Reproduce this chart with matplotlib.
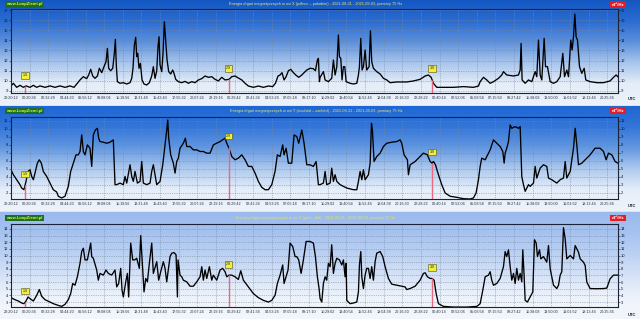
import numpy as np
import matplotlib
matplotlib.use("Agg")
import matplotlib.pyplot as plt
from matplotlib.colors import LinearSegmentedColormap

plt.rcParams['font.family'] = ['Liberation Sans', 'DejaVu Sans']

# ---- data (hours since 22:20:12, value in nT^2/Hz) ----
hours_x = [0.00, 0.28, 0.67, 1.06, 1.46, 1.77, 2.24, 2.64, 3.03, 3.42,
           4.01, 4.60, 5.19, 5.78, 6.37, 6.96, 7.43, 7.83, 8.14, 8.53,
           8.93, 9.16, 9.40, 9.64, 9.91, 10.19, 10.42, 10.70, 10.97, 11.21,
           11.37, 11.52, 11.76, 12.00, 12.19, 12.31, 12.43, 12.55, 12.86, 13.25,
           13.65, 14.04, 14.24, 14.39, 14.55, 14.71, 14.83, 14.95, 15.10, 15.26,
           15.46, 15.69, 16.01, 16.32, 16.60, 16.79, 16.99, 17.19, 17.34, 17.46,
           17.58, 17.78, 17.93, 18.09, 18.25, 18.41, 18.60, 18.84, 19.07, 19.23,
           19.43, 19.74, 20.14, 20.53, 20.92, 21.32, 21.71, 22.10, 22.50, 22.89,
           23.28, 23.68, 24.07, 24.46, 24.86, 25.25, 25.72, 26.04, 26.43, 26.82,
           27.22, 27.61, 28.00, 28.59, 29.18, 29.77, 30.36, 30.87, 31.19, 31.50,
           31.74, 31.97, 32.21, 32.45, 32.72, 33.00, 33.31, 33.63, 33.94, 34.26,
           34.57, 34.89, 35.28, 35.67, 35.91, 36.14, 36.26, 36.38, 36.46, 36.85,
           37.05, 37.44, 37.83, 38.03, 38.23, 38.43, 38.62, 38.74, 38.90, 39.05,
           39.21, 39.37, 39.53, 40.00, 40.39, 40.79, 40.98, 41.10, 41.26, 41.41,
           41.57, 41.77, 41.96, 42.24, 42.40, 42.55, 42.75, 43.14, 43.54, 43.93,
           44.32, 44.72, 45.50, 46.68, 47.47, 48.26, 48.85, 49.24, 49.56, 49.83,
           50.22, 51.01, 52.19, 53.37, 54.55, 55.14, 55.34, 55.73, 56.12, 56.52,
           56.91, 57.50, 57.89, 58.09, 58.48, 59.27, 59.86, 60.06, 60.17, 60.29,
           60.65, 61.04, 61.43, 61.83, 62.02, 62.22, 62.42, 62.61, 62.89, 63.05,
           63.28, 63.60, 63.99, 64.38, 64.78, 65.09, 65.29, 65.56, 65.76, 66.03,
           66.19, 66.35, 66.51, 66.66, 66.82, 67.06, 67.33, 67.61, 67.80, 68.31,
           69.10, 69.89, 70.67, 71.07, 71.38, 71.58]
energy_x = [9.49, 9.76, 9.36, 9.56, 9.36, 9.50, 9.36, 9.56, 9.36, 9.50,
            9.36, 9.50, 9.36, 9.50, 9.36, 9.50, 9.36, 9.76, 10.09, 10.41,
            10.22, 10.58, 11.14, 10.48, 10.25, 10.48, 11.24, 10.81, 11.40, 11.89,
            13.21, 11.24, 11.00, 11.24, 12.72, 14.10, 11.40, 9.92, 9.76, 9.82,
            9.69, 9.82, 10.25, 11.24, 13.54, 14.30, 12.39, 12.72, 11.24, 11.73,
            10.09, 9.69, 9.59, 9.82, 10.48, 11.40, 10.25, 11.00, 13.38, 14.36,
            11.57, 10.91, 12.72, 15.84, 13.87, 12.06, 10.91, 10.68, 11.07, 10.74,
            10.15, 9.92, 9.82, 9.95, 9.76, 9.92, 9.82, 10.09, 10.22, 10.48,
            10.35, 10.41, 10.15, 9.99, 10.35, 10.09, 10.15, 10.41, 10.48, 10.28,
            10.09, 9.76, 9.49, 9.36, 9.49, 9.36, 9.49, 9.43, 9.76, 10.48,
            10.58, 10.81, 10.09, 10.41, 11.00, 11.14, 10.81, 10.55, 10.35, 10.55,
            10.81, 11.07, 11.24, 11.20, 11.00, 12.06, 12.22, 9.92, 10.35, 10.91,
            10.09, 9.92, 10.25, 12.06, 10.58, 11.40, 14.53, 12.39, 12.22, 10.09,
            11.40, 11.40, 9.92, 9.76, 9.69, 9.76, 10.58, 11.40, 14.20, 11.07,
            11.40, 13.05, 11.07, 11.40, 14.95, 11.89, 11.24, 10.91, 10.68, 10.25,
            10.09, 9.82, 9.89, 9.89, 9.99, 10.15, 10.48, 10.58, 10.35, 9.76,
            9.36, 9.36, 9.36, 9.43, 9.36, 9.49, 9.92, 10.35, 10.09, 9.76,
            9.92, 10.25, 10.58, 10.91, 10.58, 10.48, 10.58, 11.07, 13.70, 10.09,
            9.76, 10.09, 9.92, 10.91, 10.41, 14.03, 10.58, 10.09, 14.20, 11.40,
            11.40, 9.92, 9.76, 9.92, 10.41, 12.72, 10.41, 11.07, 10.41, 14.03,
            13.05, 14.36, 16.60, 14.36, 14.03, 11.40, 10.74, 11.24, 10.09, 9.92,
            9.82, 9.82, 9.99, 10.35, 10.58, 10.41]

hours_y = [0.00, 0.28, 0.67, 1.06, 1.26, 1.53, 1.77, 2.01, 2.24, 2.44,
           2.64, 2.83, 3.11, 3.34, 3.58, 3.81, 4.21, 4.60, 4.99, 5.39,
           5.58, 5.98, 6.37, 6.76, 7.04, 7.35, 7.67, 7.94, 8.14, 8.34,
           8.53, 8.73, 9.01, 9.32, 9.52, 9.71, 9.95, 10.19, 10.34, 10.50,
           10.89, 11.29, 11.68, 12.07, 12.27, 12.47, 12.86, 13.25, 13.45, 13.65,
           14.04, 14.24, 14.43, 14.63, 14.91, 15.22, 15.42, 15.61, 16.01, 16.40,
           16.60, 16.79, 17.19, 17.58, 17.90, 18.17, 18.37, 18.49, 18.60, 18.84,
           19.15, 19.35, 19.55, 19.74, 19.94, 20.33, 20.57, 20.73, 21.12, 21.51,
           21.91, 22.30, 22.69, 23.09, 23.48, 23.87, 24.27, 24.66, 25.25, 25.45,
           25.72, 26.04, 26.43, 26.82, 27.22, 27.61, 28.00, 28.40, 28.79, 29.18,
           29.58, 29.97, 30.36, 30.76, 31.15, 31.42, 31.74, 32.05, 32.21, 32.45,
           32.72, 33.12, 33.39, 33.71, 33.94, 34.30, 34.57, 34.89, 35.28, 35.67,
           35.99, 36.26, 36.46, 36.85, 37.05, 37.24, 37.64, 37.83, 38.03, 38.23,
           38.43, 38.82, 39.61, 40.39, 40.79, 40.98, 41.18, 41.38, 41.57, 41.77,
           42.16, 42.36, 42.52, 42.63, 42.83, 43.14, 43.54, 43.93, 44.32, 44.91,
           45.50, 45.90, 46.09, 46.37, 46.76, 46.88, 47.08, 47.67, 48.26, 48.65,
           49.12, 49.44, 49.67, 49.83, 50.07, 50.42, 50.81, 51.21, 51.80, 52.58,
           53.37, 54.16, 54.55, 54.86, 55.14, 55.34, 55.53, 55.93, 56.32, 56.52,
           56.91, 57.30, 57.70, 58.01, 58.17, 58.29, 58.48, 58.68, 58.88, 59.07,
           59.47, 59.86, 60.06, 60.25, 60.45, 60.65, 61.04, 61.24, 61.63, 61.83,
           62.02, 62.42, 62.81, 63.20, 63.40, 63.79, 64.38, 64.78, 65.17, 65.37,
           65.56, 65.96, 66.35, 66.55, 66.74, 66.94, 67.33, 67.92, 68.31, 68.90,
           69.49, 69.89, 70.20, 70.48, 70.87, 71.26, 71.58]
energy_y = [4.90, 4.28, 3.66, 3.04, 2.62, 2.41, 3.45, 4.70, 4.90, 4.07,
            3.66, 4.49, 5.73, 6.15, 5.73, 4.70, 4.07, 3.24, 2.41, 2.12,
            1.59, 1.38, 1.59, 2.83, 4.70, 5.73, 6.77, 6.77, 7.19, 9.26,
            7.19, 6.77, 8.02, 7.60, 5.32, 9.26, 9.88, 10.09, 8.85, 8.43,
            8.35, 8.22, 8.35, 8.64, 3.04, 3.04, 3.24, 3.04, 4.07, 3.24,
            5.53, 4.07, 3.45, 4.70, 3.24, 3.45, 5.94, 3.24, 3.04, 3.24,
            4.70, 5.53, 3.04, 3.45, 5.53, 8.02, 9.88, 11.13, 8.85, 6.77,
            5.73, 4.49, 5.94, 6.36, 7.60, 8.22, 8.85, 7.81, 7.81, 7.39,
            7.39, 7.19, 7.19, 6.98, 6.98, 8.02, 8.22, 8.43, 8.85, 8.22,
            7.60, 6.56, 6.15, 6.36, 6.77, 6.15, 5.32, 5.32, 4.49, 3.45,
            2.71, 2.41, 2.41, 3.04, 4.70, 6.77, 6.56, 8.02, 6.77, 7.60,
            5.73, 5.73, 9.26, 9.05, 8.22, 9.88, 8.22, 5.53, 5.53, 5.32,
            5.94, 3.04, 3.04, 3.24, 4.70, 3.04, 3.24, 5.11, 3.45, 4.28,
            3.45, 3.04, 2.62, 2.41, 2.41, 3.45, 4.70, 3.66, 4.90, 3.66,
            4.28, 5.73, 10.71, 9.88, 5.94, 6.56, 6.98, 7.81, 8.22, 8.35,
            8.43, 8.64, 8.22, 6.77, 6.15, 4.28, 5.53, 5.94, 6.56, 6.98,
            6.77, 5.94, 5.73, 5.94, 5.53, 4.28, 3.04, 2.00, 1.59, 1.46,
            1.29, 1.25, 1.38, 2.00, 3.66, 5.32, 6.36, 6.15, 6.98, 7.39,
            8.64, 8.22, 7.81, 7.19, 5.73, 6.98, 7.60, 8.43, 10.51, 10.09,
            10.30, 10.09, 10.30, 4.07, 3.04, 2.21, 3.04, 2.83, 3.24, 5.32,
            3.87, 5.11, 5.53, 5.32, 3.87, 3.66, 3.24, 3.66, 3.87, 5.94,
            3.87, 4.70, 7.60, 10.09, 8.02, 5.53, 5.73, 6.36, 6.77, 7.60,
            7.60, 7.19, 6.15, 6.98, 6.77, 5.94, 5.73]

hours_z = [0.00, 0.47, 0.87, 1.26, 1.53, 1.77, 2.01, 2.24, 2.64, 3.03,
           3.34, 3.62, 4.01, 4.60, 4.99, 5.58, 5.98, 6.37, 6.76, 7.04,
           7.28, 7.55, 7.83, 8.14, 8.34, 8.53, 8.73, 9.01, 9.24, 9.40,
           9.52, 9.71, 10.11, 10.30, 10.50, 10.89, 11.21, 11.48, 11.88, 12.27,
           12.47, 12.70, 12.94, 13.10, 13.25, 13.57, 13.73, 13.88, 14.12, 14.36,
           14.59, 14.83, 15.14, 15.30, 15.54, 15.69, 15.89, 16.09, 16.32, 16.60,
           16.79, 17.19, 17.42, 17.66, 17.97, 18.17, 18.37, 18.76, 18.96, 19.23,
           19.47, 19.63, 19.70, 19.94, 20.14, 20.33, 20.73, 21.12, 21.51, 21.91,
           22.30, 22.50, 22.69, 22.89, 23.09, 23.40, 23.68, 23.87, 24.27, 24.66,
           24.97, 25.25, 25.45, 25.72, 26.04, 26.43, 26.82, 27.10, 27.41, 28.00,
           28.59, 29.18, 29.77, 30.36, 30.76, 31.15, 31.42, 31.74, 32.05, 32.21,
           32.45, 32.68, 32.92, 33.23, 33.51, 33.71, 33.94, 34.22, 34.49, 34.81,
           35.28, 35.67, 35.91, 36.14, 36.34, 36.46, 36.66, 36.85, 37.05, 37.24,
           37.44, 37.64, 37.83, 38.03, 38.23, 38.43, 38.74, 39.02, 39.21, 39.41,
           39.53, 39.61, 40.00, 40.39, 40.79, 40.98, 41.10, 41.26, 41.38, 41.57,
           41.77, 41.96, 42.16, 42.36, 42.55, 42.75, 42.95, 43.14, 43.54, 43.85,
           44.13, 44.52, 44.91, 45.50, 46.09, 46.49, 46.68, 47.08, 47.67, 48.26,
           48.65, 48.85, 49.12, 49.44, 49.67, 49.91, 50.15, 50.42, 51.01, 52.19,
           53.76, 54.94, 55.34, 55.65, 55.93, 56.32, 56.52, 56.71, 56.91, 57.30,
           57.70, 58.09, 58.29, 58.48, 58.68, 58.88, 59.07, 59.27, 59.47, 59.66,
           59.86, 60.06, 60.25, 60.37, 60.53, 60.65, 60.92, 61.24, 61.55, 61.75,
           61.95, 62.10, 62.34, 62.50, 62.81, 63.20, 63.40, 63.60, 63.99, 64.38,
           64.58, 64.78, 64.97, 65.17, 65.37, 65.56, 65.96, 66.35, 66.55, 66.94,
           67.14, 67.53, 67.73, 67.92, 68.31, 69.10, 69.89, 70.28, 70.67, 71.07,
           71.58]
energy_z = [3.66, 3.35, 3.15, 2.85, 2.75, 3.15, 3.76, 3.51, 3.15, 4.01,
            4.88, 3.86, 3.35, 3.00, 2.75, 2.49, 2.34, 2.65, 3.35, 4.27,
            5.79, 5.53, 6.80, 8.83, 10.60, 11.10, 9.34, 9.34, 10.86, 11.87,
            9.84, 9.59, 7.82, 6.29, 7.31, 7.05, 7.82, 7.31, 7.05, 7.82,
            5.28, 5.79, 8.07, 4.77, 3.76, 6.29, 7.31, 3.76, 11.87, 9.34,
            9.34, 9.59, 8.07, 13.00, 7.82, 4.52, 6.55, 6.04, 8.83, 11.87,
            7.31, 9.08, 6.29, 7.56, 9.08, 8.07, 6.04, 9.84, 10.35, 10.45,
            10.10, 3.76, 9.34, 7.05, 6.80, 6.29, 6.04, 5.38, 5.38, 6.04,
            6.80, 8.32, 6.29, 7.82, 6.55, 8.32, 6.29, 7.05, 6.29, 7.82,
            8.07, 7.56, 6.80, 7.05, 7.05, 6.80, 6.40, 7.71, 6.29, 5.28,
            4.27, 3.66, 3.25, 3.00, 3.25, 4.01, 5.79, 7.05, 8.58, 5.79,
            6.80, 7.82, 11.87, 11.36, 9.84, 9.84, 9.34, 7.31, 9.34, 12.12,
            12.12, 11.87, 9.84, 6.80, 5.03, 3.51, 3.00, 5.79, 6.80, 6.29,
            8.83, 8.32, 11.62, 7.31, 8.83, 9.59, 9.34, 8.58, 9.34, 6.80,
            8.83, 3.25, 2.75, 2.85, 3.00, 4.52, 8.58, 10.60, 6.80, 5.03,
            7.05, 8.07, 8.07, 6.55, 8.32, 6.29, 9.08, 10.35, 10.60, 9.84,
            8.32, 6.55, 5.69, 5.53, 5.38, 5.28, 4.88, 5.03, 5.38, 6.29,
            7.31, 7.41, 6.80, 6.55, 6.55, 6.29, 4.27, 2.75, 2.34, 2.24,
            2.24, 2.34, 2.75, 4.77, 6.80, 7.05, 7.56, 6.29, 5.53, 5.79,
            6.55, 8.32, 10.60, 9.84, 10.86, 8.32, 6.29, 7.31, 5.79, 8.07,
            6.29, 7.31, 6.04, 10.86, 6.80, 3.25, 3.00, 3.76, 4.52, 12.38,
            11.87, 9.84, 10.86, 9.50, 9.84, 9.00, 11.50, 8.00, 5.53, 5.03,
            5.53, 7.05, 7.56, 14.20, 12.50, 9.50, 10.00, 9.50, 11.50, 10.50,
            9.50, 9.00, 8.50, 6.00, 5.03, 5.00, 5.03, 5.10, 6.50, 7.05,
            7.05]

time_labels = ["22:20:12", "00:20:36", "02:32:28", "04:44:20", "06:56:12", "09:08:04",
               "11:19:56", "13:31:48", "15:43:40", "17:55:32", "20:07:24", "22:19:16",
               "00:29:42", "02:41:34", "04:53:26", "07:05:18", "09:17:10", "11:29:02",
               "13:40:54", "15:52:46", "18:04:38", "20:16:30", "22:28:22", "00:40:14",
               "02:52:06", "05:03:58", "07:15:50", "09:27:42", "11:38:08", "13:50:00",
               "16:01:52", "18:13:44", "20:25:36"]
day_hours = [1.66, 25.66, 49.66]
day_labels = ["1.9", "2.9", "3.9"]

titles = [
    "Energia drgań magnetycznych w osi X (północ – południe) - 2021-08-31 - 2021-09-03, pomiary 75 Hz",
    "Energia drgań magnetycznych w osi Y (wschód – zachód) - 2021-08-31 - 2021-09-03, pomiary 75 Hz",
    "Energia drgań magnetycznych w osi Z (góra - dół) - 2021-08-31 - 2021-09-03, pomiary 75 Hz",
]

W, H = 640, 319
fig = plt.figure(figsize=(6.4, 3.19), dpi=100, facecolor='#dde4ee')


def rect(x0, y0, x1, y1):
    return [x0 / W, 1 - y1 / H, (x1 - x0) / W, (y1 - y0) / H]


def px(x, y):
    return x / W, 1 - y / H


def panel(box, plot_box, colors, t, v, ylim, yticks, title, head_y, utc_y, title_col):
    bg = fig.add_axes(rect(*box))
    cmap = LinearSegmentedColormap.from_list('bg', colors)
    bg.imshow(np.linspace(0, 1, 256)[:, None], aspect='auto', cmap=cmap,
              extent=[0, 1, 0, 1], origin='upper')
    bg.axis('off')

    ax = fig.add_axes(rect(*plot_box))
    ax.set_facecolor('none')
    ax.plot(t, v, color='black', lw=0.95)
    ax.set_xlim(0, 71.6)
    ax.set_ylim(*ylim)
    ax.set_xticks(np.arange(len(time_labels)) * 2.1978)
    ax.set_xticklabels(time_labels)
    ax.set_yticks(yticks)
    ax.tick_params(axis='x', length=0, pad=2.2, labelsize=2.7, colors='#2a3040')
    ax.tick_params(axis='y', left=True, right=True, labelleft=True, labelright=True,
                   length=1.2, width=0.4, pad=0.8, labelsize=3.0, colors='#101c34')
    ax.grid(True, ls=(0, (1, 1.6)), color='#7a889c', lw=0.5)
    for s in ax.spines.values():
        s.set_color('#1a2436')
        s.set_linewidth(0.8)

    for d, lab in zip(day_hours, day_labels):
        val = np.interp(d, t, v)
        ax.vlines(d, ylim[0], val, color='#e86a7c', lw=1.0, zorder=3)
        ax.annotate(lab, (d, val), xytext=(0, 8), textcoords='offset points',
                    ha='center', va='center', fontsize=2.6, color='#202020', zorder=5,
                    bbox=dict(boxstyle='square,pad=0.35', fc='#f2ee3c', ec='#505020', lw=0.4))

    fig.text(*px(6, head_y), "www.LoopZiemi.pl", ha='left', va='center', fontsize=3.1,
             fontweight='bold', color='#d8f040',
             bbox=dict(boxstyle='square,pad=0.3', fc='#1d6e22', ec='none'))
    fig.text(*px(316, head_y), title, ha='center', va='center', fontsize=2.8, color=title_col)
    fig.text(*px(618, head_y), "nT²/Hz", ha='center', va='center', fontsize=3.0,
             fontweight='bold', color='white',
             bbox=dict(boxstyle='square,pad=0.3', fc='#e41c24', ec='none'))
    fig.text(*px(632, utc_y), "UTC", ha='center', va='center', fontsize=3.0,
             fontweight='bold', color='#1a2436')


panel((0, 0, W, 105), (11, 9, 618, 93),
      ['#1356c2', '#2a6bd0', '#5a8fdc', '#a8c5ec', '#e4edf8', '#edf2fa'],
      hours_x, energy_x, (8.8, 17.1), range(9, 18), titles[0], 4.5, 99.5, '#e8e66a')
panel((0, 106, W, 211), (11, 117, 618, 199),
      ['#1d66d4', '#3476d8', '#6498e0', '#aecaee', '#e6eef9', '#eef3fa'],
      hours_y, energy_y, (1.25, 11.5), range(2, 12), titles[1], 111, 206, '#e8e66a')
panel((0, 212, W, H), (11, 224, 618, 307),
      ['#9ab9ee', '#a6c3f0', '#bcd2f3', '#d6e3f7', '#eef3fb', '#f3f6fb'],
      hours_z, energy_z, (2.25, 14.75), range(3, 15), titles[2], 218, 315, '#e4e460')

fig.savefig('out.png', dpi=100, facecolor=fig.get_facecolor())
